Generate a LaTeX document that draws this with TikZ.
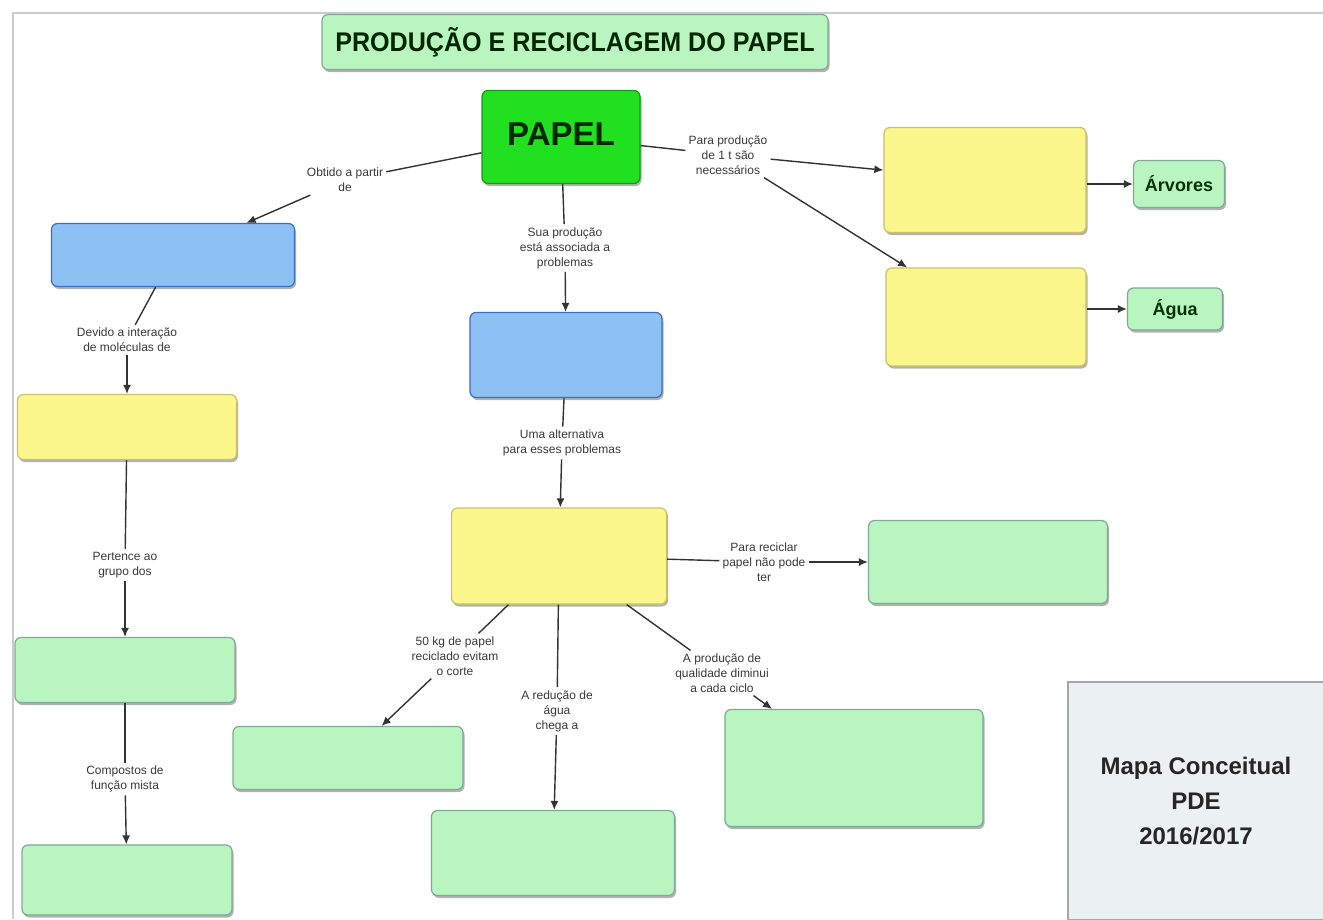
\documentclass[tikz,border=0pt]{standalone}
\usepackage{fontspec}
\setmainfont{Liberation Sans}
\newfontfamily\condfont[FakeStretch=0.93]{Liberation Sans}
\usetikzlibrary{arrows.meta,shadows}
\definecolor{lgreen}{HTML}{B9F5BE}
\definecolor{lgreenb}{HTML}{7FA89A}
\definecolor{yel}{HTML}{FBF78C}
\definecolor{yelb}{HTML}{C9C267}
\definecolor{blu}{HTML}{8EC1F3}
\definecolor{blub}{HTML}{3D6CC4}
\definecolor{pgreen}{HTML}{20E020}
\definecolor{pgreenb}{HTML}{139A18}
\definecolor{mapa}{HTML}{EBF1F3}
\definecolor{txt}{HTML}{3A3A3A}
\definecolor{line}{HTML}{333333}
\tikzset{
  box/.style={rectangle, rounded corners=6pt, line width=1.2pt, inner sep=0pt,
    drop shadow={shadow xshift=1.5pt, shadow yshift=-2.5pt, fill=black, opacity=0.3}},
  gbox/.style={box, fill=lgreen, draw=lgreenb},
  ybox/.style={box, fill=yel, draw=yelb},
  bbox/.style={box, fill=blu, draw=blub},
  lbl/.style={align=center, text=txt, font=\fontsize{12}{15}\selectfont, inner sep=3pt},
  conn/.style={draw=line, line width=1.4pt},
  arr/.style={conn, -{Latex[length=9pt,width=8pt]}},
}
\begin{document}
\begin{tikzpicture}[x=1pt,y=-1pt]
\useasboundingbox (0,0) rectangle (1323,919);
\fill[white] (0,0) rectangle (1323,919);
% frame
\draw[black!20, line width=1.5pt] (13,919) -- (13,13) -- (1323,13);

% title
\node[gbox, minimum width=506pt, minimum height=55pt, text=black!85!green] (title) at (575,42)
  {\condfont\bfseries\fontsize{27}{30}\selectfont PRODUÇÃO E RECICLAGEM DO PAPEL};

% main concept
\node[box, fill=pgreen, draw=pgreenb, minimum width=158pt, minimum height=93pt] (papel) at (561,137)
  {\raisebox{6pt}{\bfseries\fontsize{33}{36}\selectfont\color{black!85!green}PAPEL}};

% boxes
\node[bbox, minimum width=243pt, minimum height=63pt] (blue1) at (173,255) {};
\node[bbox, minimum width=192pt, minimum height=85pt] (blue2) at (566,355) {};
\node[ybox, minimum width=202pt, minimum height=105pt] (yR1) at (985,180) {};
\node[ybox, minimum width=200pt, minimum height=98pt] (yR2) at (986,317) {};
\node[gbox, minimum width=91pt, minimum height=47pt, text=black!80!green] (arv) at (1179,184)
  {\bfseries\fontsize{18}{20}\selectfont Árvores};
\node[gbox, minimum width=95pt, minimum height=42pt, text=black!80!green] (agua) at (1175,309)
  {\bfseries\fontsize{18}{20}\selectfont Água};
\node[ybox, minimum width=219pt, minimum height=65pt] (yL) at (127,427) {};
\node[gbox, minimum width=220pt, minimum height=65pt] (gL1) at (125,670) {};
\node[gbox, minimum width=210pt, minimum height=70pt] (gL2) at (127,880) {};
\node[ybox, minimum width=215pt, minimum height=96pt] (yC) at (559,556) {};
\node[gbox, minimum width=239pt, minimum height=83pt] (gR) at (988,562) {};
\node[gbox, minimum width=230pt, minimum height=63pt] (gB1) at (348,758) {};
\node[gbox, minimum width=243pt, minimum height=85pt] (gB2) at (553,853) {};
\node[gbox, minimum width=258pt, minimum height=117pt] (gB3) at (854,768) {};

% Mapa box
\node[rectangle, fill=mapa, draw=black!35, line width=1.2pt, minimum width=256pt, minimum height=238pt,
  align=center, font=\bfseries\fontsize{24}{35}\selectfont, text=black!85] (mapa) at (1196,801)
  {Mapa Conceitual\\PDE\\2016/2017};

% linking phrases
\node[lbl] (l1) at (345,180) {Obtido a partir\\de};
\node[lbl] (l2) at (728,155) {Para produção\\de 1 t são\\necessários};
\node[lbl] (l3) at (565,248) {Sua produção\\está associada a\\problemas};
\node[lbl] (l4) at (127,340) {Devido a interação\\de moléculas de};
\node[lbl] (l5) at (125,565) {Pertence ao\\grupo dos};
\node[lbl] (l6) at (125,779) {Compostos de\\função mista};
\node[lbl] (l7) at (562,443) {Uma alternativa\\para esses problemas};
\node[lbl] (l8) at (764,562) {Para reciclar\\papel não pode\\ter};
\node[lbl] (l9) at (455,656) {50 kg de papel\\reciclado evitam\\o corte};
\node[lbl] (l10) at (557,711) {A redução de\\água\\chega a};
\node[lbl] (l11) at (722,673) {A produção de\\qualidade diminui\\a cada ciclo};

% connectors
\draw[conn] (papel) -- (l1);
\draw[arr] (l1) -- (blue1);
\draw[conn] (papel) -- (l2);
\draw[arr] (l2) -- (yR1);
\draw[arr] (l2) -- (yR2);
\draw[conn] (papel) -- (l3);
\draw[arr] (l3) -- (blue2);
\draw[arr] (yR1.east |- arv.west) -- (arv.west);
\draw[arr] (yR2.east |- agua.west) -- (agua.west);
\draw[conn] (blue1) -- (l4);
\draw[arr] (l4) -- (yL);
\draw[conn] (yL) -- (l5);
\draw[arr] (l5) -- (gL1);
\draw[conn] (gL1) -- (l6);
\draw[arr] (l6) -- (gL2);
\draw[conn] (blue2) -- (l7);
\draw[arr] (l7) -- (yC);
\draw[conn] (yC) -- (l8);
\draw[arr] (l8) -- (gR);
\draw[conn] (yC) -- (l9);
\draw[arr] (l9) -- (gB1);
\draw[conn] (yC) -- (l10);
\draw[arr] (l10) -- (gB2);
\draw[conn] (yC) -- (l11);
\draw[arr] (l11) -- (gB3);
\end{tikzpicture}
\end{document}
